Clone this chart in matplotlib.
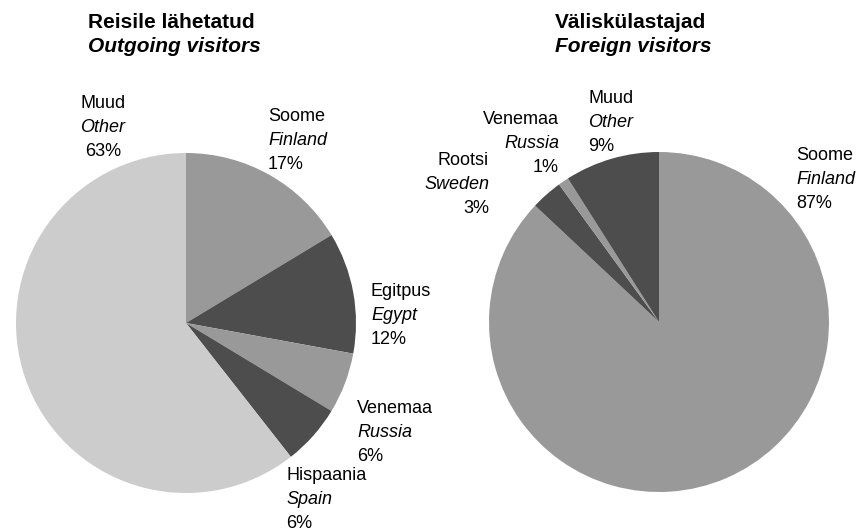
import matplotlib
matplotlib.use("Agg")
import matplotlib.pyplot as plt

plt.rcParams['font.family'] = ['Liberation Sans', 'DejaVu Sans']

W, H = 861, 532

# Reisile lähetatud / Outgoing visitors
out_names_et = ['Soome', 'Egitpus', 'Venemaa', 'Hispaania', 'Muud']
out_names_en = ['Finland', 'Egypt', 'Russia', 'Spain', 'Other']
out_values = [17, 12, 6, 6, 63]

# Väliskülastajad / Foreign visitors
in_names_et = ['Soome', 'Rootsi', 'Venemaa', 'Muud']
in_names_en = ['Finland', 'Sweden', 'Russia', 'Other']
in_values = [87, 3, 1, 9]

LIGHT, MID, DARK = '#cccccc', '#999999', '#4d4d4d'
out_colors = [MID, DARK, MID, DARK, LIGHT]
in_colors = [MID, DARK, MID, DARK]

# label anchors in pixels: (x, first baseline, alignment)
out_label_pos = [(268, 121, 'left'), (371, 296, 'left'), (357, 413, 'left'),
                 (286, 480, 'left'), (103, 108, 'center')]
in_label_pos = [(796, 160, 'left'), (489, 165, 'right'), (559, 124, 'right'),
                (588, 103, 'left')]

LINE = 24
FS = 13

fig = plt.figure(figsize=(W / 100, H / 100), dpi=100)
ax = fig.add_axes([0, 0, 1, 1])


def draw_pie(values, colors, center_px, names_et, names_en, positions):
    cx, cy = center_px
    ax.pie(values, colors=colors, startangle=90, counterclock=False,
           center=(cx, H - cy), radius=170, frame=True,
           wedgeprops=dict(linewidth=0))
    for et, en, v, (x, y, ha) in zip(names_et, names_en, values, positions):
        ax.text(x, H - y, et, fontsize=FS, ha=ha, va='baseline')
        ax.text(x, H - y - LINE, en, fontsize=FS, ha=ha, va='baseline', style='italic')
        ax.text(x, H - y - 2 * LINE, f'{v}%', fontsize=FS, ha=ha, va='baseline')


draw_pie(out_values, out_colors, (186, 323), out_names_et, out_names_en, out_label_pos)
draw_pie(in_values, in_colors, (659, 322), in_names_et, in_names_en, in_label_pos)

ax.set_xlim(0, W)
ax.set_ylim(0, H)
ax.set_aspect('equal')
ax.axis('off')

ax.text(88, H - 28, 'Reisile lähetatud', fontsize=15, fontweight='bold', va='baseline')
ax.text(88, H - 52, 'Outgoing visitors', fontsize=15, fontweight='bold',
        style='italic', va='baseline')
ax.text(555, H - 28, 'Väliskülastajad', fontsize=15, fontweight='bold', va='baseline')
ax.text(555, H - 52, 'Foreign visitors', fontsize=15, fontweight='bold',
        style='italic', va='baseline')

fig.savefig('out.png', dpi=100)
